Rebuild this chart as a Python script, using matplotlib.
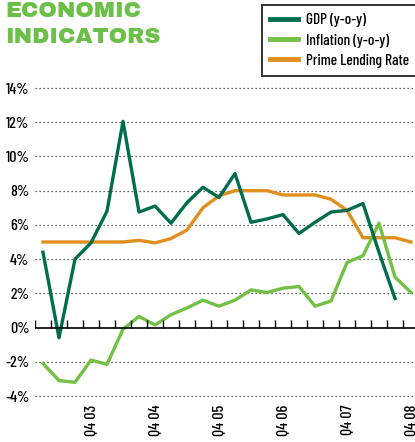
import numpy as np
import matplotlib
matplotlib.use('Agg')
import matplotlib.pyplot as plt

quarters = ['Q1 03', 'Q2 03', 'Q3 03', 'Q4 03', 'Q1 04', 'Q2 04', 'Q3 04', 'Q4 04',
            'Q1 05', 'Q2 05', 'Q3 05', 'Q4 05', 'Q1 06', 'Q2 06', 'Q3 06', 'Q4 06',
            'Q1 07', 'Q2 07', 'Q3 07', 'Q4 07', 'Q1 08', 'Q2 08', 'Q3 08', 'Q4 08']
gdp = [4.4, -0.6, 4.0, 4.95, 6.8, 12.05, 6.75, 7.1, 6.1, 7.3, 8.2, 7.6,
       9.0, 6.15, 6.35, 6.6, 5.5, 6.15, 6.75, 6.85, 7.25, 4.4, 1.7]
inflation = [-2.1, -3.1, -3.2, -1.9, -2.15, -0.1, 0.65, 0.15, 0.75, 1.15, 1.6, 1.25,
             1.6, 2.2, 2.05, 2.3, 2.4, 1.25, 1.55, 3.8, 4.2, 6.1, 2.95, 2.05]
prime = [5.0, 5.0, 5.0, 5.0, 5.0, 5.0, 5.1, 4.95, 5.2, 5.7, 7.0, 7.7,
         8.0, 8.0, 8.0, 7.75, 7.75, 7.75, 7.5, 6.85, 5.25, 5.25, 5.25, 5.0]
yticks = [-4, -2, 0, 2, 4, 6, 8, 10, 12, 14]

c_gdp = '#006e4c'
c_inf = '#72c044'
c_prime = '#e08f1c'
c_title = '#6cc04a'
font = 'Barlow Condensed'

fig = plt.figure(figsize=(4.15, 4.42), dpi=100)
ax = fig.add_axes([35/415, (442-396)/442, 380/415, 308/442])

x = np.arange(len(quarters))
ax.plot(x[:len(gdp)], gdp, color=c_gdp, lw=2.4, label='GDP (y-o-y)', zorder=4)
ax.plot(x, inflation, color=c_inf, lw=2.4, label='Inflation (y-o-y)', zorder=3)
ax.plot(x, prime, color=c_prime, lw=2.4, label='Prime Lending Rate', zorder=2)

ax.set_xlim(-0.5, 23.25)
ax.set_ylim(-4, 14)

for s in ax.spines.values():
    s.set_visible(False)

# dotted grid, solid zero line with small upward ticks
for v in yticks:
    if v == 0:
        continue
    ax.axhline(v, color='#333333', lw=0.9, ls=(0, (1, 2.2)), zorder=1, clip_on=False)
ax.axhline(0, color='black', lw=1.2, zorder=5)
ax.vlines(x - 0.5, 0, 0.42, color='black', lw=1.0, zorder=5)

ax.set_yticks(yticks)
ax.set_yticklabels([f'{v}%' for v in yticks], family=font, fontsize=11.5, fontweight='medium')
ax.tick_params(axis='y', length=0, pad=4)

ax.set_xticks(x[3::4])
ax.set_xticklabels([quarters[i] for i in range(3, 24, 4)], rotation=90,
                   family=font, fontsize=11.5, fontweight='medium', va='top')
ax.tick_params(axis='x', length=0, pad=6)

fig.text(5/415, 1 - 1/442, 'ECONOMIC\nINDICATORS', color=c_title, fontsize=16,
         family='Archivo Black', va='top', ha='left', linespacing=1.38)

leg = ax.legend(loc='upper left', bbox_to_anchor=(262/415, 1 - 5/442), bbox_transform=fig.transFigure,
                prop={'family': font, 'size': 11, 'weight': 'medium'}, frameon=True, fancybox=False,
                handlelength=1.8, handletextpad=0.5, labelspacing=0.4, borderpad=0.55,
                borderaxespad=0)
leg.get_frame().set_edgecolor('black')
leg.get_frame().set_linewidth(1.4)
for h in leg.get_lines():
    h.set_linewidth(3.5)

fig.savefig('out.png', dpi=100)
